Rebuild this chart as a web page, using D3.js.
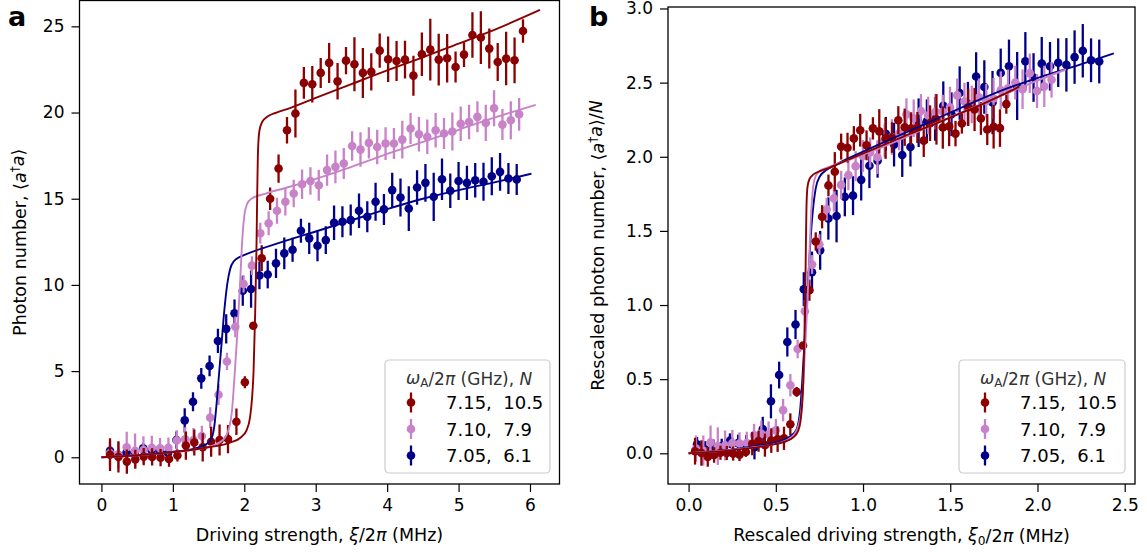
<!DOCTYPE html>
<html><head><meta charset="utf-8">
<script src="https://cdn.jsdelivr.net/npm/d3@7"></script>
<style>
body{margin:0;background:#fff}
text{font-family:"DejaVu Sans",sans-serif}
</style>
</head><body>
<svg id="c" width="1147" height="552" xmlns="http://www.w3.org/2000/svg"></svg>
<script>
// ---------------- data ----------------
const seriesNames = ["7.15,  10.5", "7.10,  7.9", "7.05,  6.1"];
const seriesColors = ["#8b0000", "#c882c8", "#00008b"];
const legendN = [10.5, 7.9, 6.1];

const xRed = [0.12,0.238,0.356,0.474,0.592,0.71,0.828,0.946,1.064,1.182,1.30,1.418,1.536,1.654,1.772,1.89,2.008,2.126,2.244,2.362,2.48,2.598,2.716,2.834,2.952,3.07,3.188,3.306,3.424,3.542,3.66,3.778,3.896,4.014,4.132,4.25,4.368,4.486,4.604,4.722,4.84,4.958,5.076,5.194,5.312,5.43,5.548,5.666,5.784,5.902];
const yRed = [0.15,0.02,-0.25,-0.12,0.04,0.02,-0.02,-0.1,0.1,0.68,0.86,0.58,0.9,1.0,1.06,2.06,4.35,7.63,11.55,15.0,16.75,18.97,19.94,21.72,21.64,22.3,22.88,21.81,23.01,22.8,22.3,22.36,23.59,23.09,22.99,23.07,22.14,23.38,23.65,23.07,23.15,22.64,23.36,24.5,24.35,23.71,22.93,23.13,23.03,24.73];
const eRed = [0.95,0.9,0.7,0.55,0.5,0.5,0.5,0.45,0.35,0.82,0.75,0.82,0.87,0.9,0.82,0.77,0.35,0.2,0.75,0.65,0.82,0.77,1.39,0.92,1.06,0.87,1.16,1.06,0.79,1.57,1.45,1.08,0.99,1.32,1.16,1.1,1.16,1.26,1.79,1.5,1.4,0.9,0.72,1.32,1.53,1.16,1.1,1.55,1.33,0.68];

const xPink = [0.12,0.237,0.354,0.471,0.588,0.705,0.821,0.938,1.055,1.172,1.289,1.406,1.523,1.64,1.757,1.874,1.99,2.107,2.224,2.341,2.458,2.575,2.692,2.809,2.926,3.043,3.159,3.276,3.393,3.51,3.627,3.744,3.861,3.978,4.095,4.212,4.328,4.445,4.562,4.679,4.796,4.913,5.03,5.147,5.264,5.381,5.497,5.614,5.731,5.848];
const yPink = [0.25,0.15,0.58,0.38,0.42,0.55,0.52,0.55,0.97,1.04,1.0,1.23,2.3,3.63,5.56,7.57,10.06,11.12,13.0,13.58,14.3,14.82,15.3,15.84,16.03,15.78,16.66,16.85,17.04,18.06,17.85,18.24,18.0,18.2,18.2,18.43,19.07,18.74,18.59,18.97,18.78,18.9,19.35,19.45,19.75,19.4,20.25,19.3,19.55,19.9];
const ePink = [0.7,0.8,0.9,1.0,0.8,0.7,0.6,0.6,0.6,0.7,0.7,0.6,0.6,0.6,0.5,0.6,0.5,0.55,0.6,0.7,0.75,0.8,0.8,0.85,0.8,0.9,0.9,0.95,0.9,0.85,1.0,0.9,1.0,0.95,0.9,1.1,0.9,1.0,1.0,1.0,0.9,1.1,1.0,1.0,0.9,1.05,1.05,0.9,1.1,0.95];

const xBlue = [0.12,0.236,0.352,0.469,0.585,0.701,0.817,0.933,1.05,1.166,1.282,1.398,1.514,1.631,1.747,1.863,1.979,2.095,2.212,2.328,2.444,2.56,2.676,2.793,2.909,3.025,3.141,3.257,3.374,3.49,3.606,3.722,3.838,3.955,4.071,4.187,4.303,4.419,4.536,4.652,4.768,4.884,5.0,5.117,5.233,5.349,5.465,5.581,5.698,5.814];
const yBlue = [0.37,0.15,0.27,0.3,0.52,0.42,0.35,0.25,1.0,2.14,3.22,4.58,5.3,6.75,7.45,8.35,9.66,9.76,10.55,10.6,11.25,11.83,12.04,13.14,12.7,12.27,12.6,13.6,13.66,13.76,14.3,13.95,14.82,14.38,15.5,15.07,14.43,15.65,15.92,15.11,16.13,15.46,16.03,15.92,16.07,15.98,16.3,16.56,16.17,16.12];
const eBlue = [0.3,0.35,0.3,0.3,0.3,0.35,0.4,0.5,0.5,0.7,0.55,0.6,0.6,0.7,0.85,0.8,0.87,1.08,0.8,0.8,0.85,0.92,0.7,0.7,0.9,0.9,0.8,1.0,0.9,0.9,1.0,0.9,1.1,0.9,1.0,1.1,1.3,1.0,1.1,1.4,1.2,1.0,1.1,1.0,1.0,1.1,1.1,1.1,0.9,0.9];

// theory curves (panel a units)
const curveRedX = [0,0.5,1.0,1.5,1.8,1.95,2.03,2.08,2.11,2.13,2.15,2.17,2.18,2.19,2.21,2.25,2.32,2.45,2.6,3.0,3.5,4.0,4.5,5.0,5.5,6.14];
const curveRedY = [0,0.12,0.3,0.58,0.85,1.15,1.55,2.3,3.5,5,8,12,15,17.5,18.9,19.45,19.75,20.0,20.2,20.85,21.65,22.45,23.2,24.0,24.8,25.95];
const curvePinkX = [0,0.5,1.0,1.5,1.7,1.78,1.83,1.86,1.9,1.94,1.97,2.0,2.04,2.1,2.3,2.6,3.0,3.5,4.0,4.5,5.0,5.5,6.08];
const curvePinkY = [0,0.12,0.3,0.6,1.0,1.6,2.8,4.5,7,10,12.5,14.0,14.7,15.0,15.3,15.65,16.15,16.85,17.6,18.3,19.0,19.7,20.45];
const curveBlueX = [0,0.5,1.0,1.3,1.45,1.53,1.58,1.61,1.64,1.68,1.72,1.76,1.8,1.86,1.95,2.1,2.5,3.0,3.5,4.0,4.5,5.0,5.5,6.02];
const curveBlueY = [0,0.12,0.32,0.5,0.72,1.0,1.8,3,4.5,6.5,8.5,10,10.9,11.4,11.65,11.9,12.45,13.1,13.75,14.4,15.0,15.5,15.95,16.45];

const ticksAX = [0,1,2,3,4,5,6];
const ticksAY = [0,5,10,15,20,25];
const ticksBX = [0,0.5,1.0,1.5,2.0,2.5];
const ticksBY = [0,0.5,1.0,1.5,2.0,2.5,3.0];

// ---------------- build ----------------
const svg = d3.select("#c");
svg.append("rect").attr("width",1147).attr("height",552).attr("fill","#fff");

const raw = [
  {x:xRed, y:yRed, e:eRed, cx:curveRedX, cy:curveRedY},
  {x:xPink, y:yPink, e:ePink, cx:curvePinkX, cy:curvePinkY},
  {x:xBlue, y:yBlue, e:eBlue, cx:curveBlueX, cy:curveBlueY}
];

function rich(sel, parts, size){
  parts.forEach(p=>{
    const t = sel.append("tspan").text(p.t);
    if(p.i) t.attr("font-style","italic");
    if(p.sup){ t.attr("font-size", size*0.7).attr("dy", -size*0.38); }
    if(p.sub){ t.attr("font-size", size*0.7).attr("dy", size*0.2); }
    if(p.back){ t.attr("dy", p.back*size); }
  });
}

function panel(cfg){
  const g = svg.append("g");
  const x = d3.scaleLinear().domain(cfg.xd).range(cfg.xr);
  const y = d3.scaleLinear().domain(cfg.yd).range(cfg.yr);
  const clipId = "clip"+cfg.id;
  svg.append("clipPath").attr("id",clipId).append("rect")
    .attr("x",cfg.xr[0]).attr("y",cfg.yr[1]).attr("width",cfg.xr[1]-cfg.xr[0]).attr("height",cfg.yr[0]-cfg.yr[1]);
  const plot = g.append("g").attr("clip-path",`url(#${clipId})`);

  // data points with error bars (drawn blue, pink, red so that red sits on top)
  [2,1,0].forEach(k=>{
    const s = cfg.series[k];
    const grp = plot.append("g");
    const pts = s.x.map((v,i)=>({x:v,y:s.y[i],e:s.e[i]}));
    grp.selectAll("line").data(pts).join("line")
      .attr("x1",d=>x(d.x)).attr("x2",d=>x(d.x))
      .attr("y1",d=>y(d.y-d.e)).attr("y2",d=>y(d.y+d.e))
      .attr("stroke",seriesColors[k]).attr("stroke-width",2.3);
    grp.selectAll("circle").data(pts).join("circle")
      .attr("cx",d=>x(d.x)).attr("cy",d=>y(d.y)).attr("r",4.3)
      .attr("fill",seriesColors[k]);
  });
  // theory curves
  const line = d3.line().x(d=>x(d[0])).y(d=>y(d[1])).curve(d3.curveMonotoneX);
  [2,1,0].forEach(k=>{
    const s = cfg.series[k];
    plot.append("path").datum(s.cx.map((v,i)=>[v,s.cy[i]]))
      .attr("d",line).attr("fill","none").attr("stroke",seriesColors[k]).attr("stroke-width",1.9);
  });

  // axes
  const ax = g.append("g").attr("transform",`translate(0,${cfg.yr[0]})`)
    .call(d3.axisBottom(x).tickValues(cfg.tx).tickSize(8).tickPadding(7).tickFormat(cfg.fx));
  const ay = g.append("g").attr("transform",`translate(${cfg.xr[0]},0)`)
    .call(d3.axisLeft(y).tickValues(cfg.ty).tickSize(8).tickPadding(7).tickFormat(cfg.fy));
  [ax,ay].forEach(a=>{
    a.select(".domain").remove();
    a.selectAll("line").attr("stroke","#000").attr("stroke-width",1.2);
    a.selectAll("text").attr("font-size",17).attr("fill","#000").attr("font-family","DejaVu Sans");
  });
  // frame
  g.append("rect").attr("x",cfg.xr[0]).attr("y",cfg.yr[1])
    .attr("width",cfg.xr[1]-cfg.xr[0]).attr("height",cfg.yr[0]-cfg.yr[1])
    .attr("fill","none").attr("stroke","#000").attr("stroke-width",1.3);

  // axis labels
  const xl = g.append("text").attr("x",(cfg.xr[0]+cfg.xr[1])/2).attr("y",541)
    .attr("text-anchor","middle").attr("font-size",17.5);
  rich(xl, cfg.xlabel, 17.5);
  const yl = g.append("text").attr("transform",`translate(${cfg.ylx},${(cfg.yr[0]+cfg.yr[1])/2}) rotate(-90)`)
    .attr("text-anchor","middle").attr("font-size",17.5);
  rich(yl, cfg.ylabel, 17.5);

  // panel letter
  g.append("text").attr("x",cfg.letterX).attr("y",26).attr("font-size",27)
    .attr("font-weight","bold").text(cfg.letter);

  // legend
  const L = cfg.legend;
  const lg = g.append("g").attr("transform",`translate(${L.x},${L.y})`);
  lg.append("rect").attr("x",0).attr("y",0).attr("width",L.w).attr("height",L.h)
    .attr("rx",4).attr("fill","#fff").attr("fill-opacity",0.8).attr("stroke","#cccccc").attr("stroke-width",1.2);
  const tt = lg.append("text").attr("x",21).attr("y",24).attr("font-size",17).attr("fill","#333");
  rich(tt, [{t:"ω",i:1},{t:"A",sub:1},{t:"/2",back:-0.14},{t:"π",i:1},{t:" (GHz), "},{t:"N",i:1}], 17);
  seriesNames.forEach((nm,k)=>{
    const cy = 42.5 + k*26.5;
    lg.append("line").attr("x1",26).attr("x2",26).attr("y1",cy-10).attr("y2",cy+10)
      .attr("stroke",seriesColors[k]).attr("stroke-width",2.3);
    lg.append("circle").attr("cx",26).attr("cy",cy).attr("r",4.3).attr("fill",seriesColors[k]);
    lg.append("text").attr("x",61).attr("y",cy+6.5).attr("font-size",18)
      .style("white-space","pre").text(nm);
  });
}

const seriesA = raw;
const seriesB = raw.map((s,k)=>({
  x: s.x.map(v=>v/Math.sqrt(legendN[k])),
  y: s.y.map(v=>v/legendN[k]),
  e: s.e.map(v=>v/legendN[k]),
  cx: s.cx.map(v=>v/Math.sqrt(legendN[k])),
  cy: s.cy.map(v=>v/legendN[k])
}));

panel({
  id:"a", series:seriesA,
  xd:[-0.307,6.413], xr:[79.5,559.5],
  yd:[-1.55,26.5], yr:[484,0.5],
  tx:ticksAX, ty:ticksAY, fx:d3.format("d"), fy:d3.format("d"),
  xlabel:[{t:"Driving strength, "},{t:"ξ",i:1},{t:"/2"},{t:"π",i:1},{t:" (MHz)"}],
  ylabel:[{t:"Photon number, ⟨"},{t:"a",i:1},{t:"†",sup:1},{t:"a",i:1,back:0.38*0.7},{t:"⟩"}],
  ylx:26, letter:"a", letterX:8,
  legend:{x:385,y:360,w:165,h:113}
});
panel({
  id:"b", series:seriesB,
  xd:[-0.118,2.559], xr:[668,1135],
  yd:[-0.207,3.01], yr:[484,7],
  tx:ticksBX, ty:ticksBY, fx:d3.format(".1f"), fy:d3.format(".1f"),
  xlabel:[{t:"Rescaled driving strength, "},{t:"ξ",i:1},{t:"0",sub:1},{t:"/2",back:-0.14},{t:"π",i:1},{t:" (MHz)"}],
  ylabel:[{t:"Rescaled photon number, ⟨"},{t:"a",i:1},{t:"†",sup:1},{t:"a",i:1,back:0.38*0.7},{t:"⟩/"},{t:"N",i:1}],
  ylx:604, letter:"b", letterX:589,
  legend:{x:959,y:360,w:166,h:113}
});
</script>
</body></html>
